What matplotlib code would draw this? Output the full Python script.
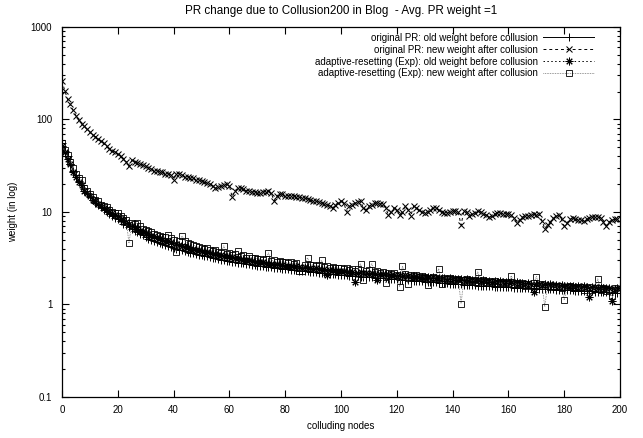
# Grafica de cambio de PR por colusion (estilo gnuplot), eje y logaritmico.
import matplotlib
matplotlib.use("Agg")
import matplotlib.pyplot as plt
from matplotlib.ticker import FixedLocator, LogLocator, NullFormatter, FuncFormatter

plt.rcParams['font.family'] = ['Liberation Sans', 'DejaVu Sans']
plt.rcParams['font.size'] = 7

# Nodos en colusion (eje x)
nodos = list(range(200))

# original PR: peso viejo antes de la colusion
pr_viejo = [
    55, 46, 40, 33, 28, 25, 21.5, 19.5, 17.5, 16,
    14.5, 13.5, 12.6, 11.8, 11.2, 10.6, 10.1, 9.6, 9.1, 8.7,
    8.3, 7.9, 7.5, 7.2, 6.9, 6.6, 6.3, 6.0, 5.8, 5.6,
    5.3, 5.15, 5.0, 4.85, 4.75, 4.6, 4.5, 4.4, 4.3, 4.2,
    4.1, 4.0, 3.92, 3.85, 3.78, 3.71, 3.64, 3.58, 3.52, 3.46,
    3.4, 3.35, 3.3, 3.25, 3.2, 3.15, 3.1, 3.06, 3.02, 2.98,
    2.94, 2.9, 2.87, 2.84, 2.81, 2.78, 2.75, 2.72, 2.69, 2.66,
    2.63, 2.6, 2.58, 2.56, 2.54, 2.52, 2.5, 2.48, 2.46, 2.44,
    2.42, 2.4, 2.38, 2.36, 2.34, 2.32, 2.3, 2.29, 2.28, 2.26,
    2.24, 2.22, 2.2, 2.19, 2.18, 2.16, 2.14, 2.12, 2.11, 2.1,
    2.08, 2.07, 2.06, 2.05, 2.04, 2.02, 2.01, 2.0, 1.99, 1.98,
    1.97, 1.96, 1.95, 1.94, 1.93, 1.92, 1.91, 1.9, 1.89, 1.88,
    1.87, 1.86, 1.85, 1.84, 1.83, 1.82, 1.81, 1.8, 1.79, 1.78,
    1.77, 1.76, 1.75, 1.74, 1.73, 1.72, 1.71, 1.7, 1.69, 1.68,
    1.67, 1.66, 1.65, 1.645, 1.64, 1.635, 1.63, 1.62, 1.61, 1.6,
    1.59, 1.58, 1.575, 1.57, 1.565, 1.56, 1.555, 1.55, 1.545, 1.54,
    1.535, 1.53, 1.525, 1.52, 1.515, 1.51, 1.505, 1.5, 1.495, 1.49,
    1.485, 1.48, 1.475, 1.47, 1.465, 1.46, 1.455, 1.45, 1.445, 1.44,
    1.435, 1.43, 1.425, 1.42, 1.415, 1.41, 1.405, 1.4, 1.395, 1.39,
    1.385, 1.38, 1.375, 1.37, 1.365, 1.36, 1.355, 1.35, 1.345, 1.34,
]

# original PR: peso nuevo despues de la colusion
pr_nuevo = [
    260, 205, 165, 145, 125, 110, 98, 90, 84, 78,
    73, 68, 65, 61, 58, 55, 51, 48, 46, 44,
    42, 40, 37, 35, 31, 36, 35, 34, 33, 32,
    31, 30, 29, 28, 28, 27, 27, 26, 26, 25,
    22, 26, 26, 25, 24, 24, 23, 23, 22, 22,
    21.5, 21, 20.5, 20, 19, 18, 18.5, 19, 19.5, 20,
    19, 14.5, 17, 18, 18, 17.5, 17, 17, 16.5, 16.5,
    16, 16, 16.5, 16.5, 16.8, 16, 13.1, 15, 15.5, 15.5,
    15, 15, 14.9, 14.8, 14.6, 14.4, 14.2, 14, 13.8, 13.5,
    13.1, 13, 12.8, 12.5, 12.2, 12, 11.5, 11, 12, 12.5,
    13, 12.5, 10, 11.5, 12, 12.5, 12.8, 13.1, 11, 10.5,
    11.5, 12, 12.5, 12.4, 12.3, 12.2, 11, 9.3, 10, 11,
    10.5, 9.3, 10, 11.6, 10.5, 9, 11.6, 11, 10.5, 10,
    9.8, 10, 10.5, 11, 11, 10.5, 10, 9.8, 9.8, 10,
    10.2, 10.2, 10, 7.2, 10.2, 10, 9, 9.5, 9.8, 10.2,
    10, 9.5, 9.2, 8.8, 9, 9.4, 9.8, 9.7, 9.6, 9.5,
    9.6, 9.2, 8.5, 7.6, 8.2, 8.8, 9, 9, 9.2, 9.4,
    9.3, 9.6, 8, 6.6, 7.3, 7.8, 8.5, 9, 9.3, 8.3,
    7, 7.6, 8.3, 8.6, 8.4, 8.2, 8.1, 8, 8.3, 8.6,
    8.8, 8.8, 8.8, 8.6, 7.8, 7, 7.8, 8.2, 8.3, 8.4,
]

# adaptive-resetting (Exp): peso viejo antes de la colusion
ar_viejo = [
    52, 45, 37, 33, 27, 24, 21, 19.5, 17, 16,
    14.8, 13.6, 13.2, 12.1, 11.8, 11.0, 10.7, 10.1, 9.7, 9.3,
    9.0, 8.4, 8.2, 7.7, 7.5, 7.1, 6.9, 6.6, 6.3, 6.2,
    5.9, 5.8, 5.5, 5.5, 5.2, 5.2, 5.0, 4.9, 4.8, 4.7,
    4.5, 4.5, 4.4, 4.3, 4.2, 4.2, 4.0, 4.0, 3.9, 3.85,
    3.8, 3.7, 3.65, 3.6, 3.5, 3.5, 3.4, 3.4, 3.35, 3.3,
    3.25, 3.25, 3.15, 3.15, 3.1, 3.05, 3.0, 3.0, 2.95, 2.9,
    2.9, 2.85, 2.85, 2.8, 2.75, 2.75, 2.7, 2.72, 2.65, 2.68,
    2.62, 2.6, 2.62, 2.55, 2.58, 2.52, 2.5, 2.52, 2.45, 2.48,
    2.42, 2.45, 2.4, 2.38, 2.4, 2.1, 2.35, 2.33, 2.3, 2.32,
    2.28, 2.3, 2.25, 2.26, 2.22, 1.75, 2.2, 2.22, 2.18, 2.2,
    2.15, 2.17, 2.14, 1.82, 2.12, 2.13, 2.1, 2.11, 2.08, 2.1,
    2.05, 2.07, 2.04, 2.06, 2.02, 2.04, 2.0, 2.02, 1.98, 2.0,
    1.97, 1.98, 1.95, 1.97, 1.93, 1.95, 1.92, 1.94, 1.9, 1.92,
    1.88, 1.9, 1.87, 1.89, 1.85, 1.87, 1.84, 1.86, 1.82, 1.84,
    1.8, 1.82, 1.79, 1.81, 1.77, 1.79, 1.76, 1.78, 1.74, 1.76,
    1.73, 1.75, 1.71, 1.73, 1.7, 1.72, 1.68, 1.7, 1.67, 1.36,
    1.66, 1.68, 1.64, 1.66, 1.63, 1.65, 1.61, 1.63, 1.6, 1.62,
    1.59, 1.6, 1.57, 1.59, 1.56, 1.58, 1.55, 1.57, 1.54, 1.19,
    1.53, 1.55, 1.52, 1.54, 1.5, 1.52, 1.49, 1.1, 1.48, 1.5,
]

# adaptive-resetting (Exp): peso nuevo despues de la colusion
ar_nuevo = [
    55, 47, 41, 35, 30, 26, 23, 22, 18, 17,
    15.5, 14.5, 13.5, 13, 12, 11.5, 11.2, 10.5, 10, 9.8,
    9.8, 9.0, 8.6, 8.2, 4.6, 7.6, 7.4, 7.6, 7.0, 6.6,
    6.4, 6.2, 6.0, 5.8, 5.6, 5.5, 5.3, 5.4, 5.6, 5.2,
    5.0, 3.7, 4.9, 5.5, 4.8, 4.6, 4.5, 4.4, 4.3, 4.2,
    4.1, 4.0, 4.1, 3.9, 3.8, 3.9, 3.7, 3.6, 4.3, 3.5,
    3.6, 3.4, 3.5, 3.8, 3.3, 3.4, 3.2, 3.3, 3.15, 3.2,
    3.1, 3.1, 3.0, 3.1, 3.6, 2.95, 3.0, 2.9, 2.95, 2.85,
    2.9, 2.8, 2.85, 2.75, 2.8, 2.3, 2.3, 2.7, 3.2, 2.65,
    2.7, 2.6, 2.65, 3.0, 2.55, 2.6, 2.5, 2.55, 2.45, 2.5,
    2.45, 2.4, 2.5, 2.35, 2.4, 2.3, 2.4, 2.76, 1.86, 2.3,
    2.35, 2.76, 2.25, 2.3, 2.2, 2.25, 1.72, 2.2, 2.15, 2.2,
    2.1, 1.56, 2.6, 2.15, 1.68, 2.1, 2.05, 2.1, 2.0, 2.05,
    2.0, 1.64, 1.95, 2.0, 1.95, 2.44, 1.68, 1.95, 1.9, 1.95,
    1.9, 1.85, 1.9, 1.02, 1.85, 1.9, 1.85, 1.8, 1.85, 2.26,
    1.8, 1.85, 1.75, 1.8, 1.75, 1.8, 1.7, 1.75, 1.7, 1.75,
    1.7, 2.05, 1.65, 1.7, 1.65, 1.7, 1.6, 1.65, 1.6, 1.7,
    2.0, 1.6, 1.65, 0.95, 1.6, 1.55, 1.6, 1.55, 1.6, 1.5,
    1.12, 1.55, 1.6, 1.5, 1.55, 1.5, 1.55, 1.45, 1.5, 1.55,
    1.45, 1.5, 1.9, 1.45, 1.5, 1.4, 1.45, 1.25, 1.5, 1.45,
]

etiquetas = [
    'original PR: old weight before collusion',
    'original PR: new weight after collusion',
    'adaptive-resetting (Exp): old weight before collusion',
    'adaptive-resetting (Exp): new weight after collusion',
]

fig = plt.figure(figsize=(6.43, 4.38), dpi=100)
ax = fig.add_axes([0.0964, 0.0936, 0.868, 0.845])

# Cada serie con su marcador y tipo de linea (como gnuplot)
ax.plot(nodos, pr_viejo, color='black', lw=0.7, ls='-',
        marker='+', ms=6, mew=0.7, label=etiquetas[0])
ax.plot(nodos, pr_nuevo, color='black', lw=0.7, ls=(0, (3, 3)),
        marker='x', ms=5, mew=0.75, label=etiquetas[1])
ax.plot(nodos, ar_viejo, color='black', lw=0.7, ls=(0, (1.5, 2.5)),
        marker=(8, 2, 0), ms=5.5, mew=0.7, label=etiquetas[2])
ax.plot(nodos, ar_nuevo, color='#555555', lw=0.6, ls=(0, (0.8, 1.2)),
        marker='s', ms=5, mew=0.6, mec='black', mfc='none', label=etiquetas[3])

ax.set_yscale('log')
ax.set_xlim(0, 200)
ax.set_ylim(0.1, 1000)

ax.xaxis.set_major_locator(FixedLocator(range(0, 201, 20)))
ax.yaxis.set_major_locator(FixedLocator([0.1, 1, 10, 100, 1000]))
ax.yaxis.set_major_formatter(FuncFormatter(lambda v, p: '%g' % v))
ax.yaxis.set_minor_locator(LogLocator(base=10, subs=range(2, 10)))
ax.yaxis.set_minor_formatter(NullFormatter())

ax.tick_params(which='both', direction='in', top=True, right=True, width=0.8)
ax.tick_params(which='major', length=5)
ax.tick_params(which='minor', length=2.5)
ax.tick_params(axis='y', which='major', pad=7)
ax.tick_params(axis='x', which='major', pad=6)
for s in ax.spines.values():
    s.set_linewidth(0.9)

ax.set_title('PR change due to Collusion200 in Blog  - Avg. PR weight =1', pad=9)
ax.set_xlabel('colluding nodes', labelpad=4)
ax.set_ylabel('weight (in log)', labelpad=9)

ax.legend(loc='upper right', bbox_to_anchor=(0.96, 0.995), borderaxespad=0,
          frameon=False, markerfirst=False, handlelength=5.2,
          handletextpad=0.6, labelspacing=0.2, fontsize=7)

fig.savefig('out.png', dpi=100)
